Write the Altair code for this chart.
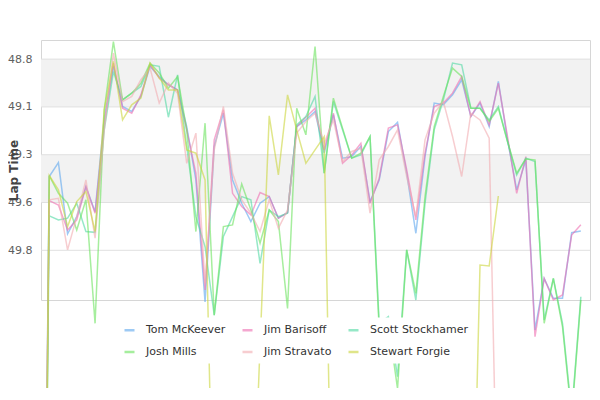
import altair as alt
import pandas as pd

drivers = ["Tom McKeever", "Jim Barisoff", "Scott Stockhamer",
           "Josh Mills", "Jim Stravato", "Stewart Forgie"]
colors = ["#5da7ee", "#ee6eb1", "#50d9a3", "#6be35d", "#f2acb1", "#cbd53c"]

tom = [54.0, 49.414, 49.341, 49.714, 49.624, 49.467, 49.598, 49.109, 48.838, 49.048,
       49.074, 48.995, 48.838, 48.891, 48.934, 48.961, 49.153, 49.432, 50.07, 49.257,
       49.083, 49.432, 49.554, 49.650, 49.554, 49.519, 49.632, 49.603, 49.153, 49.118,
       49.074, 49.292, 49.091, 49.318, 49.310, 49.257, 49.545, 49.432, 49.179, 49.131,
       49.397, 49.711, 49.310, 49.030, 49.039, 48.987, 48.908, 49.100, 49.030, 49.153,
       48.917, 49.222, 49.484, 49.327, 50.217, 49.947, 50.051, 50.051, 49.708, 49.699]
barisoff = [53.9, 49.540, 49.563, 49.694, 49.641, 49.467, 49.606, 49.144, 48.821, 49.057,
            49.083, 48.987, 48.830, 48.899, 48.934, 48.961, 49.170, 49.397, 50.008, 49.222,
            49.065, 49.502, 49.571, 49.615, 49.498, 49.519, 49.632, 49.603, 49.153, 49.104,
            49.057, 49.275, 49.083, 49.345, 49.301, 49.240, 49.554, 49.423, 49.161, 49.144,
            49.379, 49.641, 49.292, 49.048, 49.030, 48.978, 48.891, 49.100, 49.022, 49.144,
            48.926, 49.205, 49.502, 49.310, 50.252, 49.947, 50.060, 50.034, 49.720, 49.667]
stockhamer = [54.3, 49.620, 49.641, 49.632, 49.554, 49.702, 49.706, 49.170, 48.865, 49.013,
              48.978, 48.943, 48.830, 48.838, 49.104, 48.882, 49.257, 49.624, 49.781, 50.139,
              49.728, 49.624, 49.519, 49.536, 49.868, 49.589, 49.624, 49.606, 49.144, 49.100,
              48.995, 49.397, 49.022, 49.170, 49.318, 49.301, 49.205, 50.182, 50.147, 50.461,
              49.798, 50.060, 49.554, 49.170, 49.013, 48.821, 48.830, 49.057, 49.057, 49.118,
              49.048, 49.231, 49.406, 49.318, 49.336, 50.165, 49.947, 50.182, 50.653, 50.043]
mills = [54.5, 49.409, 49.502, 49.554, 49.694, 49.536, 50.182, 49.065, 48.708, 49.013,
         48.978, 48.926, 48.821, 48.873, 48.952, 48.891, 49.170, 49.702, 49.135, 50.139,
         49.676, 49.667, 49.453, 49.589, 49.763, 49.589, 49.650, 50.104, 49.057, 49.196,
         48.734, 49.397, 49.004, 49.161, 49.318, 49.292, 49.205, 50.217, 50.182, 50.523,
         49.798, 50.025, 49.519, 49.153, 48.995, 48.847, 48.891, 49.057, 49.057, 49.126,
         49.057, 49.231, 49.397, 49.323, 49.327, 50.182, 49.947, 50.200, 50.671, 50.060]
stravato = [53.5, 49.536, 49.528, 49.798, 49.624, 49.432, 49.737, 49.170, 48.769, 49.022,
            48.995, 48.908, 48.847, 49.030, 48.926, 48.978, 49.345, 49.187, 49.973, 49.275,
            49.048, 49.397, 49.536, 49.606, 49.702, 49.536, 49.685, 49.589, 49.187, 49.126,
            49.083, 49.240, 49.118, 49.336, 49.283, 49.266, 49.606, 49.327, 49.257, 49.170,
            49.414, 49.624, 49.222, 49.083, 49.022, 49.205, 49.414, 49.083, 49.118, 49.214,
            51.5]
forgie = [54.75, 49.409, 49.484, 49.676, 49.545, 49.493, 49.702, 49.065, 48.812, 49.118,
          49.039, 49.004, 48.821, 48.899, 48.961, 48.961, 49.275, 49.292, 49.432, 51.55,
          51.7, 51.7, 51.65, 51.55, 50.30, 49.097, 49.406, 48.987, 49.170, 49.345,
          49.275, 49.205, 51.8, 51.8, 51.8, 51.8, 51.8, 51.8, 51.8, 51.8,
          51.8, 51.8, 51.8, 51.8, 51.8, 51.8, 51.8, 51.85, 49.877, 49.882,
          49.516]

series = [tom, barisoff, stockhamer, mills, stravato, forgie]

tick_values = [48.8, 49.05, 49.3, 49.55, 49.8]
tick_labels = ["48.8", "49.1", "49.3", "49.6", "49.8"]
band_lo = [48.8, 49.3]
band_hi = [49.05, 49.55]
y_domain = [48.7, 50.06]
x_domain = [0.1, 60]

rows = []
for name, vals in zip(drivers, series):
    for lap, v in enumerate(vals):
        rows.append({"Driver": name, "Lap": lap, "Time": v})
df = pd.DataFrame(rows)
bands = pd.DataFrame({"lo": band_lo, "hi": band_hi})
grid = pd.DataFrame({"v": tick_values})

label_expr = " : ".join(
    f"abs(datum.value - {v}) < 0.01 ? '{l}'" for v, l in zip(tick_values, tick_labels)
) + " : ''"

yscale = alt.Scale(domain=y_domain, reverse=True, nice=False, zero=False)
xscale = alt.Scale(domain=x_domain, nice=False, zero=False)

yaxis = alt.Axis(
    values=tick_values, labelExpr=label_expr, grid=False, ticks=False, tickSize=0,
    domain=False, labelPadding=9, labelFontSize=11, labelFont="DejaVu Sans",
    labelColor="#606060", title="Lap Time", titleX=-21, titleY=130,
    titleAlign="center",
    titleFontSize=12, titleFont="DejaVu Sans", titleFontWeight="bold",
    titleColor="#444444",
)

band_layer = alt.Chart(bands).mark_rect(color="#f2f2f2").encode(
    x=alt.X(datum=x_domain[0], scale=xscale, axis=None),
    x2=alt.X2(datum=x_domain[1]),
    y=alt.Y("lo:Q", scale=yscale, axis=yaxis),
    y2="hi:Q",
)

grid_layer = alt.Chart(grid).mark_rule(color="#e0e0e0", strokeWidth=1).encode(
    y=alt.Y("v:Q", scale=yscale, axis=yaxis),
)

line_layer = alt.Chart(df).mark_line(strokeWidth=1.5, opacity=0.6, clip=False).encode(
    x=alt.X("Lap:Q", scale=xscale, axis=None),
    y=alt.Y("Time:Q", scale=yscale, axis=yaxis),
    color=alt.Color(
        "Driver:N",
        scale=alt.Scale(domain=drivers, range=colors),
        legend=alt.Legend(
            title=None, orient="none", legendX=76, legendY=277.5, columns=3,
            direction="horizontal",
            symbolType="stroke", symbolSize=100, symbolStrokeWidth=2.5,
            symbolOpacity=0.6, labelFontSize=11, labelFont="DejaVu Sans",
            labelColor="#333333", labelOffset=10, columnPadding=11, rowPadding=10,
            padding=6, fillColor="white", zindex=1,
        ),
    ),
    detail="Driver:N",
)

chart = alt.layer(band_layer, grid_layer, line_layer).properties(
    width=549, height=260,
    autosize=alt.AutoSizeParams(type="none"),
    padding={"left": 33, "top": 32, "right": 2, "bottom": 88},
).configure_view(stroke="#d6d6d6", strokeWidth=1)

chart.save("out.html", embed_options={"renderer": "svg", "actions": False})
